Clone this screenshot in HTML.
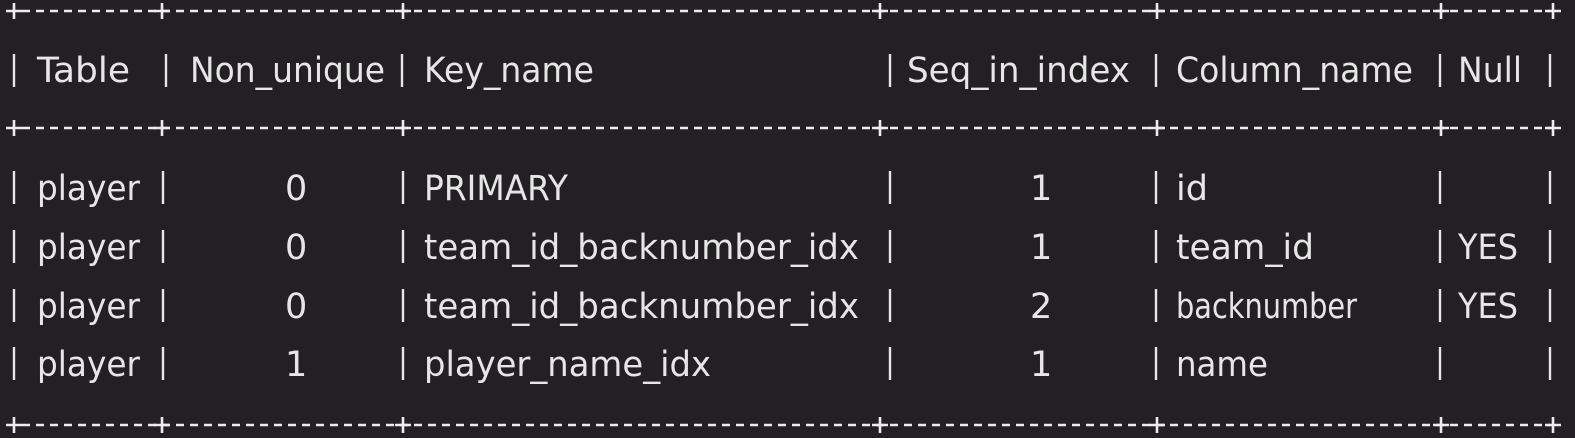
<!DOCTYPE html>
<html><head><meta charset="utf-8"><style>
html,body{margin:0;padding:0;background:#222022;}
svg{display:block}
text{font-family:"DejaVu Sans","Liberation Sans",sans-serif;font-size:35px;fill:#e6e6e6;}
</style></head><body>
<svg width="1575" height="438" viewBox="0 0 1575 438" xmlns="http://www.w3.org/2000/svg">
<rect width="1575" height="438" fill="#222022"/>
<g stroke="#ececec" stroke-width="2.4" fill="none">
  <line x1="22" y1="11" x2="1550" y2="11" stroke-dasharray="8 6"/>
  <line x1="22" y1="128" x2="1550" y2="128" stroke-dasharray="8 6"/>
  <line x1="22" y1="425" x2="1550" y2="425" stroke-dasharray="8 6"/>
</g>
<g stroke="#ececec" stroke-width="2.6">
  <path d="M6 11h16M14 3v16 M154 11h16M162 3v16 M395 11h16M403 3v16 M872 11h16M880 3v16 M1149 11h16M1157 3v16 M1433 11h16M1441 3v16 M1545 11h16M1553 3v16"/>
  <path d="M6 128h16M14 120v16 M154 128h16M162 120v16 M395 128h16M403 120v16 M872 128h16M880 120v16 M1149 128h16M1157 120v16 M1433 128h16M1441 120v16 M1545 128h16M1553 120v16"/>
  <path d="M6 425h16M14 417v16 M154 425h16M162 417v16 M395 425h16M403 417v16 M872 425h16M880 417v16 M1149 425h16M1157 417v16 M1433 425h16M1441 417v16 M1545 425h16M1553 417v16"/>
</g>
<g stroke="#e6e6e6" stroke-width="2.4">
  <path d="M14 54v33 M166 54v33 M402 54v33 M890 54v33 M1156 54v33 M1440 54v33 M1550 54v33"/>
  <path d="M14 171v33 M163 171v33 M403 171v33 M890 171v33 M1156 171v33 M1440 171v33 M1550 171v33"/>
  <path d="M14 230v33 M163 230v33 M403 230v33 M890 230v33 M1156 230v33 M1440 230v33 M1550 230v33"/>
  <path d="M14 289v33 M163 289v33 M403 289v33 M890 289v33 M1156 289v33 M1440 289v33 M1550 289v33"/>
  <path d="M14 347v33 M163 347v33 M403 347v33 M890 347v33 M1156 347v33 M1440 347v33 M1550 347v33"/>
</g>
<text x="37" y="82" textLength="93" lengthAdjust="spacingAndGlyphs">Table</text>
<text x="190" y="82" textLength="195" lengthAdjust="spacingAndGlyphs">Non_unique</text>
<text x="424" y="82" textLength="170" lengthAdjust="spacingAndGlyphs">Key_name</text>
<text x="907" y="82" textLength="223" lengthAdjust="spacingAndGlyphs">Seq_in_index</text>
<text x="1176" y="82" textLength="237" lengthAdjust="spacingAndGlyphs">Column_name</text>
<text x="1458" y="82" textLength="64" lengthAdjust="spacingAndGlyphs">Null</text>

<text x="37" y="200" textLength="103" lengthAdjust="spacingAndGlyphs">player</text>
<text x="285" y="200">0</text>
<text x="424" y="200" textLength="144" lengthAdjust="spacingAndGlyphs">PRIMARY</text>
<text x="1030" y="200">1</text>
<text x="1176" y="200" textLength="32" lengthAdjust="spacingAndGlyphs">id</text>

<text x="37" y="259" textLength="103" lengthAdjust="spacingAndGlyphs">player</text>
<text x="285" y="259">0</text>
<text x="424" y="259" textLength="435" lengthAdjust="spacingAndGlyphs">team_id_backnumber_idx</text>
<text x="1030" y="259">1</text>
<text x="1176" y="259" textLength="138" lengthAdjust="spacingAndGlyphs">team_id</text>
<text x="1458" y="259" textLength="60" lengthAdjust="spacingAndGlyphs">YES</text>

<text x="37" y="318" textLength="103" lengthAdjust="spacingAndGlyphs">player</text>
<text x="285" y="318">0</text>
<text x="424" y="318" textLength="435" lengthAdjust="spacingAndGlyphs">team_id_backnumber_idx</text>
<text x="1030" y="318">2</text>
<text x="1176" y="318" textLength="181" lengthAdjust="spacingAndGlyphs">backnumber</text>
<text x="1458" y="318" textLength="60" lengthAdjust="spacingAndGlyphs">YES</text>

<text x="37" y="376" textLength="103" lengthAdjust="spacingAndGlyphs">player</text>
<text x="285" y="376">1</text>
<text x="424" y="376" textLength="287" lengthAdjust="spacingAndGlyphs">player_name_idx</text>
<text x="1030" y="376">1</text>
<text x="1176" y="376" textLength="92" lengthAdjust="spacingAndGlyphs">name</text>
</svg>
</body></html>
